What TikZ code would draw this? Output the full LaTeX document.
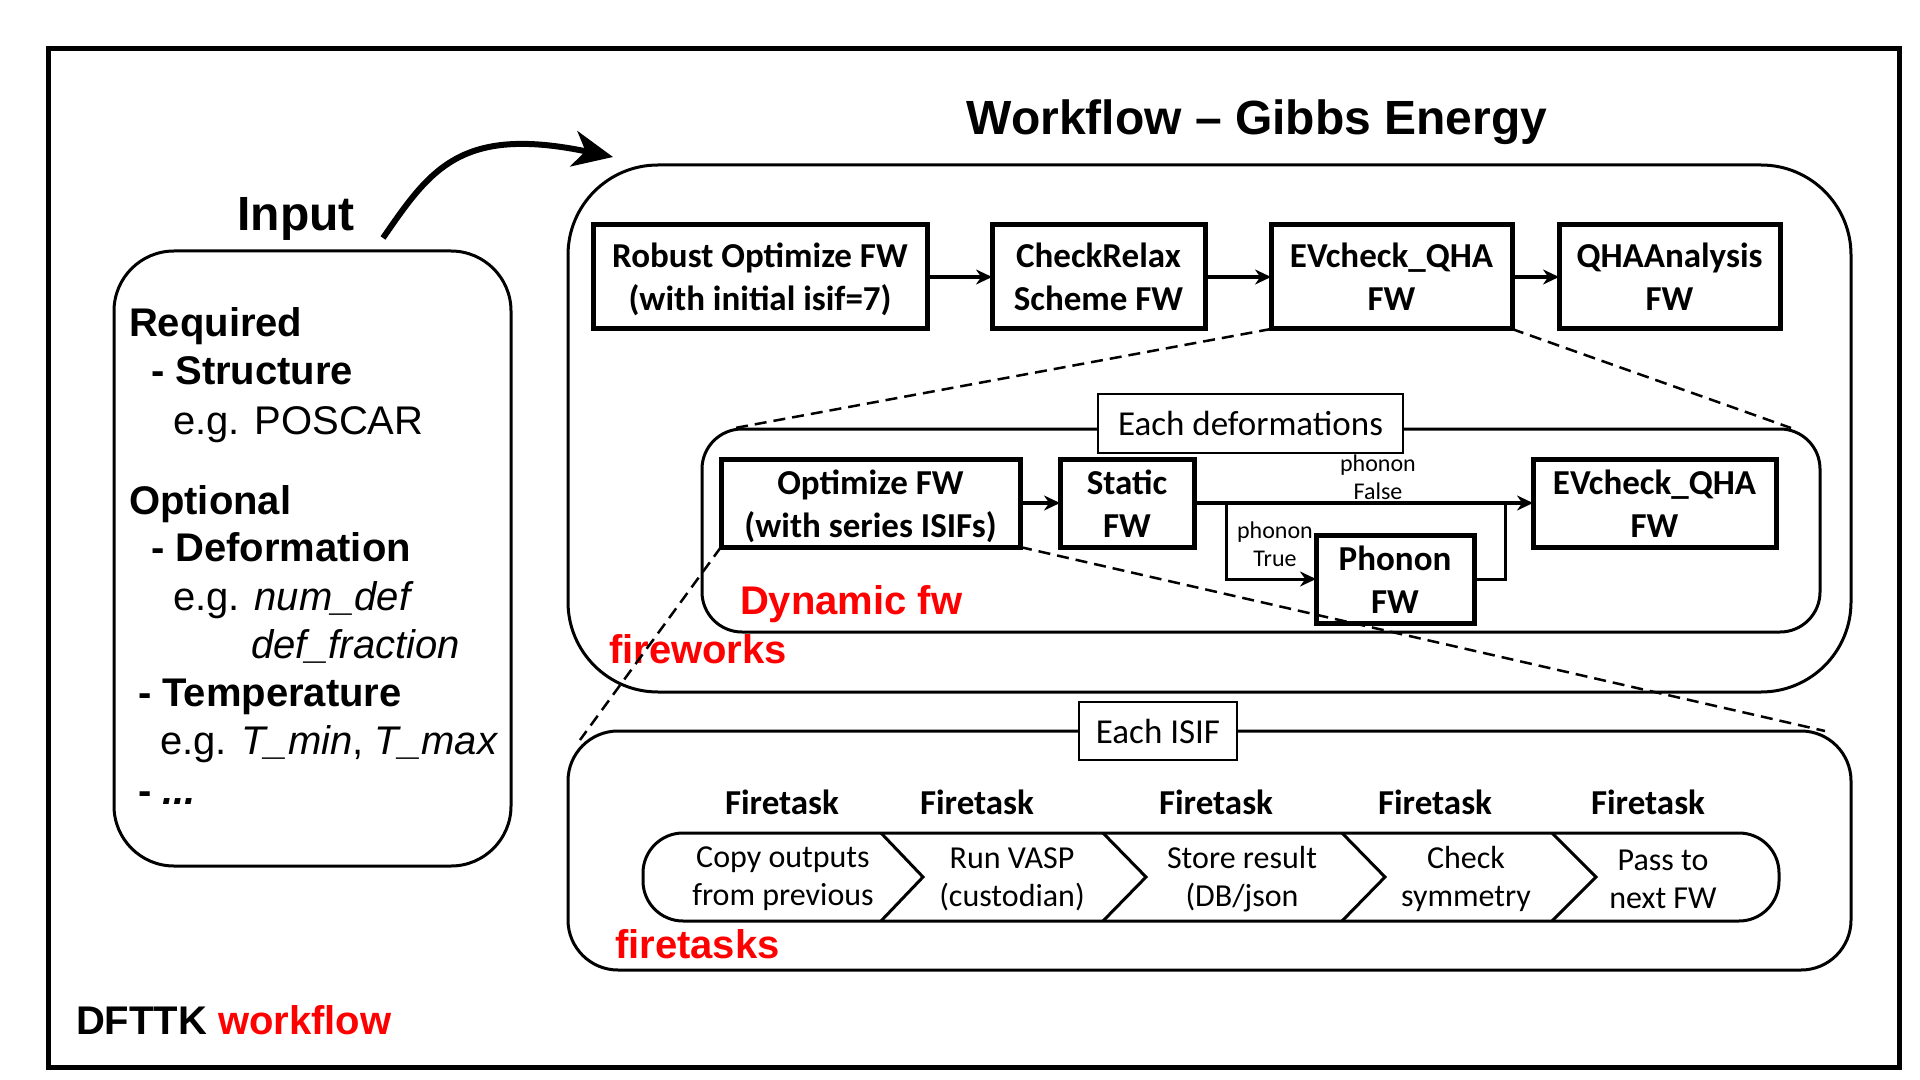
\documentclass[tikz,border=0pt]{standalone}
\usepackage{fontspec}
\setmainfont{Liberation Sans}
\newfontfamily\calf{Carlito}
\usetikzlibrary{arrows.meta,calc}
\newcommand{\twol}[2]{\rule{0pt}{17.5pt}#1\\#2\rule[-5pt]{0pt}{5pt}}
\begin{document}
\begin{tikzpicture}[x=0.5pt,y=-0.5pt,
  every node/.style={inner sep=0pt, outer sep=0pt},
  fwb/.style={draw, line width=2.5pt, align=center, font={\calf\bfseries\fontsize{17.5pt}{21.5pt}\selectfont}},
  lbl/.style={draw, line width=1.25pt, fill=white, font={\calf\fontsize{17.5pt}{21pt}\selectfont}},
  cont/.style={draw, line width=1.5pt},
  arr/.style={line width=2pt, -{Stealth[length=8pt,width=7.5pt]}},
  brl/.style={line width=1.5pt},
  dashln/.style={line width=1.25pt, dash pattern=on 6pt off 3.5pt},
  redt/.style={anchor=base west, text=red, font={\bfseries\fontsize{20pt}{24pt}\selectfont}},
  lft/.style={anchor=base west, font={\fontsize{20pt}{24pt}\selectfont}},
  ftl/.style={font={\calf\bfseries\fontsize{17.5pt}{21pt}\selectfont}},
  cht/.style={align=center, font={\calf\fontsize{16pt}{19pt}\selectfont}},
  sml/.style={align=center, font={\calf\fontsize{12pt}{14pt}\selectfont}}
]
\useasboundingbox (0,0) rectangle (1920,1080);
\fill[white] (0,0) rectangle (1920,1080);

% outer frame
\node[draw, line width=2.5pt, minimum width=925.5pt, minimum height=509pt] (frame) at (973.5,558) {};

% title and input
\node[font={\bfseries\fontsize{24pt}{28pt}\selectfont}] (title) at (1257,122) {Workflow -- Gibbs Energy};
\node[font={\bfseries\fontsize{24pt}{28pt}\selectfont}] (input) at (296,219) {Input};

% containers
\node[cont, rounded corners=30pt, minimum width=198.5pt, minimum height=307.5pt] (inp) at (312.5,558.5) {};
\node[cont, rounded corners=45pt, minimum width=641.5pt, minimum height=263.5pt] (fwbox) at (1209.5,428.5) {};
\node[cont, rounded corners=20pt, minimum width=559pt, minimum height=101.5pt] (dyn) at (1261,530.5) {};
\node[cont, rounded corners=25pt, minimum width=641.5pt, minimum height=119.5pt] (ftbox) at (1209.5,850.5) {};

% big arrow
\coordinate (a0) at (383,238);
\coordinate (a1) at (613,157);
\draw[line width=3pt, -{Stealth[length=20pt,width=18pt,inset=6pt]}] (a0) .. controls (430,170) and (460,125) .. (a1);

% input text
\node[lft] (l1) at (129,336) {\bfseries Required};
\node[lft] (l2) at (151,385) {\bfseries - Structure};
\node[lft] (l3) at (173,434) {e.g. POSCAR};
\node[lft] (l4) at (129,514) {\bfseries Optional};
\node[lft] (l5) at (151,561) {\bfseries - Deformation};
\node[lft] (l6) at (173,610) {e.g. \textit{num\_def}};
\node[lft] (l7) at (251,658) {\textit{def\_fraction}};
\node[lft] (l8) at (138,706) {\bfseries - Temperature};
\node[lft] (l9) at (160,754) {e.g. \textit{T\_min}, \textit{T\_max}};
\node[lft] (l10) at (138,804) {\bfseries - \textit{...}};

\node[lft] (dftk) at (76,1034) {\bfseries DFTTK \textcolor{red}{workflow}};

% top row
\node[fwb, minimum width=167pt, minimum height=52pt] (rob) at (760,277) {\twol{Robust Optimize FW}{(with initial isif=7)}};
\node[fwb, minimum width=106.5pt, minimum height=52pt] (chk) at (1098.5,277) {\twol{CheckRelax}{Scheme FW}};
\node[fwb, minimum width=120.5pt, minimum height=52pt] (evq) at (1391.5,277) {\twol{EVcheck\_QHA}{FW}};
\node[fwb, minimum width=110.5pt, minimum height=52pt] (qha) at (1669.5,277) {\twol{QHAAnalysis}{FW}};
\draw[arr] (rob) -- (chk);
\draw[arr] (chk) -- (evq);
\draw[arr] (evq) -- (qha);

% dashed zoom lines
\draw[dashln] (evq.south west) -- ($(dyn.north west)+(33,-1)$);
\draw[dashln] (evq.south east) -- ($(dyn.north east)+(-29,-1)$);

% dynamic row
\node[lbl, minimum width=152.5pt, minimum height=29.5pt] (eachdef) at (1250.5,423.5) {Each deformations};
\node[fwb, minimum width=149.5pt, minimum height=43pt] (opt) at (870.5,503) {\twol{Optimize FW}{(with series ISIFs)}};
\node[fwb, minimum width=67pt, minimum height=43pt] (sta) at (1127,503) {\twol{Static}{FW}};
\node[fwb, minimum width=121.5pt, minimum height=43pt] (ev2) at (1654.5,503) {\twol{EVcheck\_QHA}{FW}};
\node[fwb, minimum width=79pt, minimum height=43pt] (pho) at (1395,579) {\twol{Phonon}{FW}};
\draw[arr] (opt) -- (sta);
\draw[arr] (sta) -- (ev2);
\coordinate (b1) at (1226,503);
\coordinate (b2) at (1505,503);
\draw[brl, -{Stealth[length=8pt,width=7.5pt]}] (b1) |- (pho);
\draw[brl] (pho) -| (b2);
\node[sml] (pf) at (1378,477) {phonon\\False};
\node[sml] (pt) at (1275,544) {phonon\\True};

\node[redt] (dynt) at (740,614) {Dynamic fw};
\node[redt] (fwt) at (609,663) {fireworks};

\draw[dashln] (opt.south west) -- ($(ftbox.north west)+(12,9)$);
\draw[dashln] (opt.south east) -- ($(ftbox.north east)+(-26,0)$);

% firetasks
\node[lbl, minimum width=79pt, minimum height=29pt] (eachisif) at (1158,731) {Each ISIF};
\node[ftl] (f1) at (782,802) {Firetask};
\node[ftl] (f2) at (977,802) {Firetask};
\node[ftl] (f3) at (1216,802) {Firetask};
\node[ftl] (f4) at (1435,802) {Firetask};
\node[ftl] (f5) at (1648,802) {Firetask};

\draw[line width=1.5pt, rounded corners=20pt] (643,833) rectangle (1779,921);
\draw[line width=1.5pt] (881,833) -- (923,877) -- (881,921);
\draw[line width=1.5pt] (1103,833) -- (1146,877) -- (1103,921);
\draw[line width=1.5pt] (1342,833) -- (1385,877) -- (1342,921);
\draw[line width=1.5pt] (1552,833) -- (1596,877) -- (1552,921);

\node[cht] (t1) at (783,879) {Copy outputs\\from previous};
\node[cht] (t2) at (1012,879) {Run VASP\\(custodian)};
\node[cht] (t3) at (1242,879) {Store result\\(DB/json};
\node[cht] (t4) at (1466,879) {Check\\symmetry};
\node[cht] (t5) at (1663,879) {Pass to\\next FW};

\node[redt] (ftt) at (615,958) {firetasks};
\end{tikzpicture}
\end{document}
